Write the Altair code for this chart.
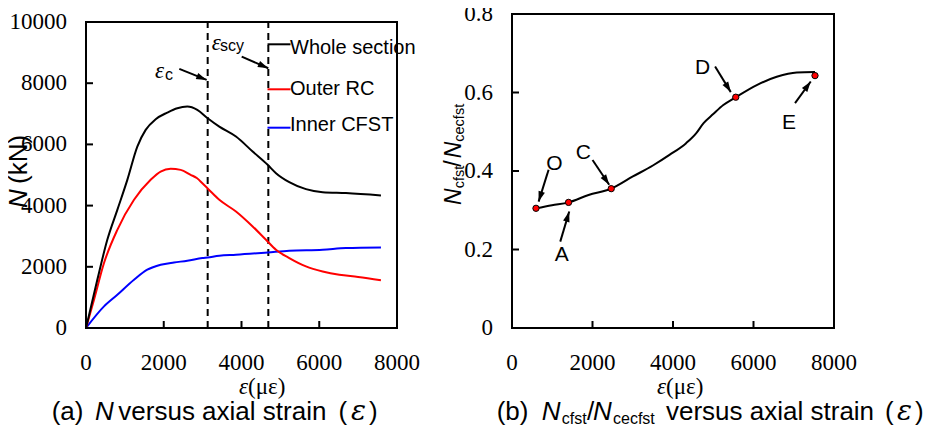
import math
import altair as alt
import pandas as pd

# ---------------- data: (a) axial force N (kN) versus strain (με) ----------------
strain_whole = [0, 291, 548, 806, 1063, 1320, 1535, 1792, 2091, 2349, 2606, 2863, 3130, 3429,
                3858, 4287, 4673, 4887, 5229, 5658, 6088, 6687, 7587]
N_whole = [0, 1577, 2883, 3862, 4842, 5929, 6474, 6823, 7040, 7183, 7235, 7127, 6856, 6582,
           6256, 5766, 5332, 5061, 4767, 4538, 4440, 4408, 4330]

strain_rc = [0, 206, 463, 806, 1235, 1663, 1920, 2178, 2435, 2692, 2850, 3000, 3130, 3429,
             3858, 4287, 4630, 4887, 5229, 5658, 6088, 6516, 7000, 7587]
N_rc = [0, 924, 2122, 3209, 4189, 4842, 5114, 5201, 5168, 5005, 4900, 4720, 4560, 4189,
        3807, 3318, 2883, 2556, 2285, 2013, 1848, 1740, 1670, 1560]

strain_cfst = [0, 463, 806, 1235, 1577, 1920, 2263, 2606, 2992, 3130, 3429, 3858, 4673,
               5229, 6088, 6687, 7587]
N_cfst = [0, 706, 1087, 1577, 1904, 2067, 2142, 2197, 2285, 2306, 2361, 2393, 2469,
          2524, 2556, 2612, 2632]

eps_lines = [3130, 4690]          # ε_c and ε_scy

# ---------------- data: (b) N_cfst / N_cecfst versus strain ----------------
strain_ratio = [596, 993, 1405, 1902, 2465, 3003, 3500, 3912, 4326, 4574, 4760, 5000,
                5250, 5559, 6081, 6577, 7074, 7528]
ratio = [0.305, 0.313, 0.320, 0.339, 0.355, 0.386, 0.414, 0.441, 0.471, 0.496, 0.522, 0.545,
         0.568, 0.588, 0.619, 0.640, 0.651, 0.652]
key_names = ["O", "A", "C", "D", "E"]
key_strain = [596, 1405, 2465, 5559, 7528]
key_ratio = [0.305, 0.320, 0.355, 0.588, 0.643]

# axis tick values and labels
x_ticks = [0, 2000, 4000, 6000, 8000]
x_labels = ["0", "2000", "4000", "6000", "8000"]
n_ticks = [0, 2000, 4000, 6000, 8000, 10000]
n_labels = ["0", "2000", "4000", "6000", "8000", "10000"]
r_ticks = [0, 0.2, 0.4, 0.6, 0.8]
r_labels = ["0", "0.2", "0.4", "0.6", "0.8"]

# annotation arrows (start -> head), in data units
arrows_a = {"x1": [2400, 4005], "y1": [8466, 8868], "x2": [3104, 4689], "y2": [8107, 8489]}
arrows_b = {"x1": [909, 1199, 2001, 5046, 7032], "y1": [0.403, 0.220, 0.428, 0.666, 0.573],
            "x2": [661, 1422, 2415, 5436, 7422], "y2": [0.322, 0.297, 0.365, 0.601, 0.628]}

# ---------------- styling / layout ----------------
SERIF = "'Liberation Serif', 'Times New Roman', 'DejaVu Serif', serif"
SERIF2 = "'DejaVu Serif', 'Liberation Serif', serif"
SANS = "'Liberation Sans', Arial, 'DejaVu Sans', sans-serif"
LW, LH, LTOP = 311, 314, 8
RW, RH = 322, 314
ONE = pd.DataFrame({"k": [0]})
HEAD = "M0,0L0.7,2.2L-0.7,2.2Z"

XS_L = alt.Scale(domain=[0, 8000], nice=False, zero=False)
YS_L = alt.Scale(domain=[0, 10000], range=[LH, LTOP], nice=False, zero=False)
XS_R = alt.Scale(domain=[0, 8000], nice=False, zero=False)
YS_R = alt.Scale(domain=[0, 0.8], nice=False, zero=False)


def txt(s, x, y, size, font=SANS, style="normal", angle=0, align="left", baseline="alphabetic"):
    kw = dict(text=s, font=font, fontSize=size, fontStyle=style, align=align,
              baseline=baseline, color="black")
    if angle:
        kw["angle"] = angle
    return alt.Chart(ONE).mark_text(**kw).encode(x=alt.value(x), y=alt.value(y))


def frame(xs, ys, xmax, ymax):
    def hline(yv):
        return alt.Chart(ONE).mark_rule(color="black", strokeWidth=2, strokeCap="square").encode(
            x=alt.XDatum(0, scale=xs, axis=None), x2=alt.X2Datum(xmax),
            y=alt.YDatum(yv, scale=ys, axis=None))

    def vline(xv):
        return alt.Chart(ONE).mark_rule(color="black", strokeWidth=2, strokeCap="square").encode(
            x=alt.XDatum(xv, scale=xs, axis=None),
            y=alt.YDatum(0, scale=ys, axis=None), y2=alt.Y2Datum(ymax))
    return [hline(0), hline(ymax), vline(0), vline(xmax)]


def tick_labels(xs, ys, xv, xl, yv, yl, h):
    xlab = alt.Chart(pd.DataFrame({"t": xv, "lab": xl})).mark_text(
        font=SERIF, fontSize=23, align="center", baseline="top", color="black").encode(
        x=alt.X("t:Q", scale=xs, axis=None), y=alt.value(h + 24), text="lab:N")
    ylab = alt.Chart(pd.DataFrame({"t": yv, "lab": yl})).mark_text(
        font=SERIF, fontSize=23, align="right", baseline="middle", color="black").encode(
        y=alt.Y("t:Q", scale=ys, axis=None), x=alt.value(-19), text="lab:N")
    return [xlab, ylab]


def inner_ticks(xv, yv, xs, ys, h):
    xt = alt.Chart(pd.DataFrame({"t": xv})).mark_rule(color="black", strokeWidth=2).encode(
        x=alt.X("t:Q", scale=xs, axis=None), y=alt.value(h), y2=alt.value(h - 7))
    yt = alt.Chart(pd.DataFrame({"t": yv})).mark_rule(color="black", strokeWidth=2).encode(
        y=alt.Y("t:Q", scale=ys, axis=None), x=alt.value(0), x2=alt.value(7))
    return [xt, yt]


def arrow_layers(d, xs, ys, sx, sy):
    df = pd.DataFrame(d)
    df["ang"] = [
        (math.degrees(math.atan2((b - a) * sx, (d2 - c) * sy)) + 360) % 360
        for a, b, c, d2 in zip(df.x1, df.x2, df.y1, df.y2)
    ]
    line = alt.Chart(df).mark_rule(color="black", strokeWidth=2).encode(
        x=alt.X("x1:Q", scale=xs, axis=None), y=alt.Y("y1:Q", scale=ys, axis=None),
        x2="x2:Q", y2="y2:Q")
    head = alt.Chart(df).mark_point(shape=HEAD, filled=True, color="black", opacity=1,
                                    size=90, strokeWidth=0).encode(
        x=alt.X("x2:Q", scale=xs, axis=None), y=alt.Y("y2:Q", scale=ys, axis=None),
        angle=alt.Angle("ang:Q", scale=None))
    return [line, head]


# ---------------- panel (a) ----------------
df_whole = pd.DataFrame({"s": strain_whole, "n": N_whole})
df_rc = pd.DataFrame({"s": strain_rc, "n": N_rc})
df_cfst = pd.DataFrame({"s": strain_cfst, "n": N_cfst})


def curve(df, col):
    return alt.Chart(df).mark_line(color=col, strokeWidth=2, interpolate="monotone").encode(
        x=alt.X("s:Q", scale=XS_L, axis=None), y=alt.Y("n:Q", scale=YS_L, axis=None))


dashed = alt.Chart(pd.DataFrame({"e": eps_lines})).mark_rule(
    color="black", strokeWidth=2, strokeDash=[7, 5]).encode(
    x=alt.X("e:Q", scale=XS_L, axis=None),
    y=alt.YDatum(0, scale=YS_L, axis=None), y2=alt.Y2Datum(10000))

legend_rows = [("Whole section", "black", 30.3, 34.3),
               ("Outer RC", "#ff0000", 75.3, 74.5),
               ("Inner CFST", "#0000ff", 113.7, 110.8)]
legend_layers = []
for label, col, ly, ty in legend_rows:
    legend_layers.append(alt.Chart(ONE).mark_rule(color=col, strokeWidth=2).encode(
        x=alt.value(181.5), x2=alt.value(204.5), y=alt.value(ly)))
    legend_layers.append(txt(label, 204, ty, 20, baseline="middle"))

texts_a = [
    txt("N", -67.5, 194, 26, style="italic", angle=270, baseline="middle"),
    txt("(kN)", -67.5, 170, 26, angle=270, baseline="middle"),
    txt("ε", 162, 373, 23, font=SERIF, style="italic", align="right", baseline="middle"),
    txt("(με)", 162, 373, 23, font=SERIF, baseline="middle"),
    txt("(a)", -34.3, 406, 26),
    txt("N", 9, 406, 26, style="italic"),
    txt("versus axial strain", 32.3, 406, 26),
    txt("(", 252.5, 406, 26),
    txt("ε", 272.5, 406, 28, font=SERIF2, style="italic", align="center"),
    txt(")", 283, 406, 26),
    txt("ε", 69, 64.3, 23, font=SERIF, style="italic"),
    txt("c", 79, 66, 16),
    txt("ε", 125.7, 36, 23, font=SERIF, style="italic"),
    txt("scy", 134, 37, 16),
]

left = alt.layer(
    dashed,
    curve(df_cfst, "#0000ff"), curve(df_rc, "#ff0000"), curve(df_whole, "black"),
    *frame(XS_L, YS_L, 8000, 10000),
    *inner_ticks([2000, 4000, 6000], [2000, 4000, 6000, 8000], XS_L, YS_L, LH),
    *tick_labels(XS_L, YS_L, x_ticks, x_labels, n_ticks, n_labels, LH),
    *arrow_layers(arrows_a, XS_L, YS_L, LW / 8000, (LH - LTOP) / 10000),
    *legend_layers, *texts_a,
).properties(width=LW, height=LH)

# ---------------- panel (b) ----------------
df_ratio = pd.DataFrame({"s": strain_ratio, "r": ratio})
df_keys = pd.DataFrame({"s": key_strain, "r": key_ratio, "name": key_names})

line_ratio = alt.Chart(df_ratio).mark_line(color="black", strokeWidth=2, interpolate="monotone").encode(
    x=alt.X("s:Q", scale=XS_R, axis=None), y=alt.Y("r:Q", scale=YS_R, axis=None))
pts = alt.Chart(df_keys).mark_point(shape="circle", filled=True, fill="#ff0000", stroke="black",
                                    strokeWidth=1, opacity=1, size=40).encode(
    x=alt.X("s:Q", scale=XS_R, axis=None), y=alt.Y("r:Q", scale=YS_R, axis=None))

key_label_pos = [(42.3, 150), (49.7, 241), (71.3, 139.3), (190.7, 53.7), (277, 109.3)]
texts_b = [txt(n, x, y, 21, align="center", baseline="middle")
           for n, (x, y) in zip(key_names, key_label_pos)]
texts_b += [
    txt("N", -51, 191, 23, style="italic", angle=270),
    txt("cfst", -48.5, 174.3, 14.5, angle=270),
    txt("/", -51, 152.7, 23, angle=270),
    txt("N", -51, 144.3, 23, style="italic", angle=270),
    txt("cecfst", -48.5, 127.7, 14.5, angle=270),
    txt("ε", 154, 373, 23, font=SERIF, style="italic", align="right", baseline="middle"),
    txt("(με)", 154, 373, 23, font=SERIF, baseline="middle"),
    txt("(b)", -15.3, 406, 26),
    txt("N", 29.7, 406, 26, style="italic"),
    txt("cfst", 49.7, 410, 16),
    txt("/", 75, 406, 26),
    txt("N", 81, 406, 26, style="italic"),
    txt("cecfst", 101, 410, 16),
    txt("versus axial strain", 154, 406, 26),
    txt("(", 373, 406, 26),
    txt("ε", 392.5, 406, 28, font=SERIF2, style="italic", align="center"),
    txt(")", 403, 406, 26),
]

right = alt.layer(
    line_ratio,
    *frame(XS_R, YS_R, 8000, 0.8),
    *inner_ticks([2000, 4000, 6000], [0.2, 0.4, 0.6], XS_R, YS_R, RH),
    *tick_labels(XS_R, YS_R, x_ticks, x_labels, r_ticks, r_labels, RH),
    *arrow_layers(arrows_b, XS_R, YS_R, RW / 8000, RH / 0.8),
    pts, *texts_b,
).properties(width=RW, height=RH)

chart = alt.hconcat(left, right, spacing=115, bounds="flush").properties(
    autosize=alt.AutoSizeParams(type="none"),
    padding={"left": 78, "top": 6, "right": 838, "bottom": 98},
    background="white",
).configure_view(stroke=None)

chart.save("out.html", embed_options={"renderer": "svg", "actions": False})
